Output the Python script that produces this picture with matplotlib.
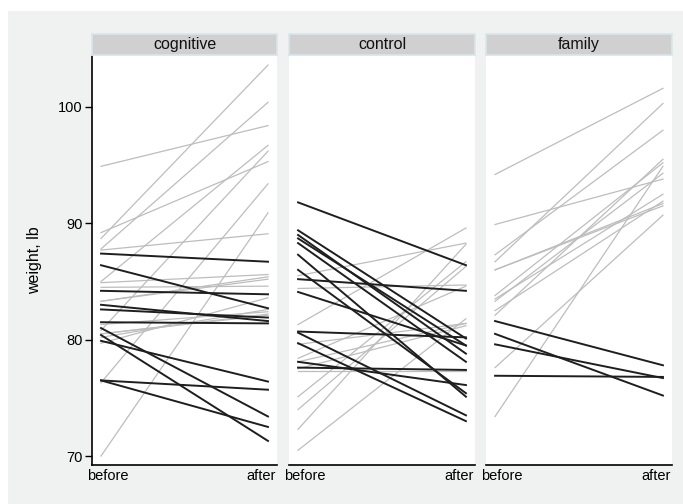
import matplotlib.pyplot as plt
from matplotlib.patches import Rectangle
from matplotlib.transforms import ScaledTranslation

plt.rcParams['font.family'] = ['Liberation Sans', 'DejaVu Sans']

groups = ["cognitive", "control", "family"]

# weight before / after treatment, lb
cbt_before = [80.5, 84.9, 81.5, 82.6, 79.9, 88.7, 94.9, 76.3, 81.0, 80.5,
              85.0, 89.2, 81.3, 76.5, 70.0, 80.4, 83.3, 83.0, 87.7, 84.2,
              86.4, 76.5, 80.2, 87.8, 83.3, 79.7, 84.5, 80.8, 87.4]
cbt_after = [82.2, 85.6, 81.4, 81.9, 76.4, 103.6, 98.4, 93.4, 73.4, 82.1,
             96.7, 95.3, 82.4, 72.5, 90.9, 71.3, 85.4, 81.6, 89.1, 83.9,
             82.7, 75.7, 82.6, 100.4, 85.2, 83.6, 84.6, 96.2, 86.7]
cont_before = [80.7, 89.4, 91.8, 74.0, 78.1, 88.3, 87.3, 75.1, 80.6, 78.4,
               77.6, 88.7, 81.3, 78.1, 70.5, 77.3, 85.2, 86.0, 84.1, 79.7,
               85.5, 84.4, 79.6, 77.5, 72.3, 89.0]
cont_after = [80.2, 80.1, 86.4, 86.3, 76.1, 78.1, 75.1, 86.7, 73.5, 84.6,
              77.4, 79.5, 89.6, 81.4, 81.8, 77.3, 84.2, 75.4, 79.5, 73.0,
              88.3, 84.7, 81.4, 81.2, 88.2, 78.8]
ft_before = [83.8, 83.3, 86.0, 82.5, 86.7, 79.6, 76.9, 94.2, 73.4, 80.5,
             81.6, 82.1, 77.6, 83.5, 89.9, 86.0, 87.3]
ft_after = [95.2, 94.3, 91.5, 91.9, 100.3, 76.7, 76.8, 101.6, 94.9, 75.2,
            77.8, 95.5, 90.7, 92.5, 93.8, 91.7, 98.0]

data = [(cbt_before, cbt_after), (cont_before, cont_after), (ft_before, ft_after)]

W, H = 683, 504
fig = plt.figure(figsize=(W / 100, H / 100), dpi=100, facecolor='white')
bg = '#F0F2F2'
fig.patches.append(Rectangle((8 / W, 0), 1 - 8 / W, 1 - 11 / H,
                             transform=fig.transFigure, facecolor=bg,
                             edgecolor='none', zorder=-5))

lefts = [92, 289, 486]
widths = [185, 186, 186]
ax_bottom, ax_top = 39, 448

for i, (name, (pre, post)) in enumerate(zip(groups, data)):
    ax = fig.add_axes([lefts[i] / W, ax_bottom / H, widths[i] / W,
                       (ax_top - ax_bottom) / H])
    ax.set_facecolor('white')
    # gray lines: gain or no change; black: weight lost
    for b, a in zip(pre, post):
        if a >= b:
            ax.plot([0, 1], [b, a], color='#BDBDBD', lw=0.9, zorder=2)
    for b, a in zip(pre, post):
        if a < b:
            ax.plot([0, 1], [b, a], color='#1E1E1E', lw=1.4, zorder=3)
    ax.set_xlim(-0.054, 1.054)
    ax.set_ylim(69.23, 104.38)
    ax.set_xticks([0, 1])
    ax.set_xticklabels(["before", "after"], fontsize=10.5)
    ax.tick_params(axis='x', length=0, pad=3)
    # keep the x labels inside the panel width
    for lab, dx in zip(ax.get_xticklabels(), [7, -7]):
        lab.set_transform(lab.get_transform() +
                          ScaledTranslation(dx / 100, 0, fig.dpi_scale_trans))
    for s in ['top', 'right']:
        ax.spines[s].set_visible(False)
    ax.spines['bottom'].set_linewidth(1.2)
    if i == 0:
        ax.set_yticks([70, 80, 90, 100])
        ax.tick_params(axis='y', length=5, width=1, pad=2, labelsize=10.5)
        ax.spines['left'].set_linewidth(1.2)
        ax.set_ylabel("weight, lb", fontsize=11.5, labelpad=11)
    else:
        ax.set_yticks([])
        ax.spines['left'].set_visible(False)

    # strip header
    sax = fig.add_axes([lefts[i] / W, 449 / H, widths[i] / W, 21 / H])
    sax.set_facecolor('#D0D0D0')
    sax.set_xticks([])
    sax.set_yticks([])
    for s in sax.spines.values():
        s.set_edgecolor('#D8E6EA')
        s.set_linewidth(1.2)
    sax.text(0.5, 0.5, name, ha='center', va='center', fontsize=11.5,
             color='#111111', transform=sax.transAxes)

fig.savefig("out.png", dpi=100, facecolor=fig.get_facecolor())
